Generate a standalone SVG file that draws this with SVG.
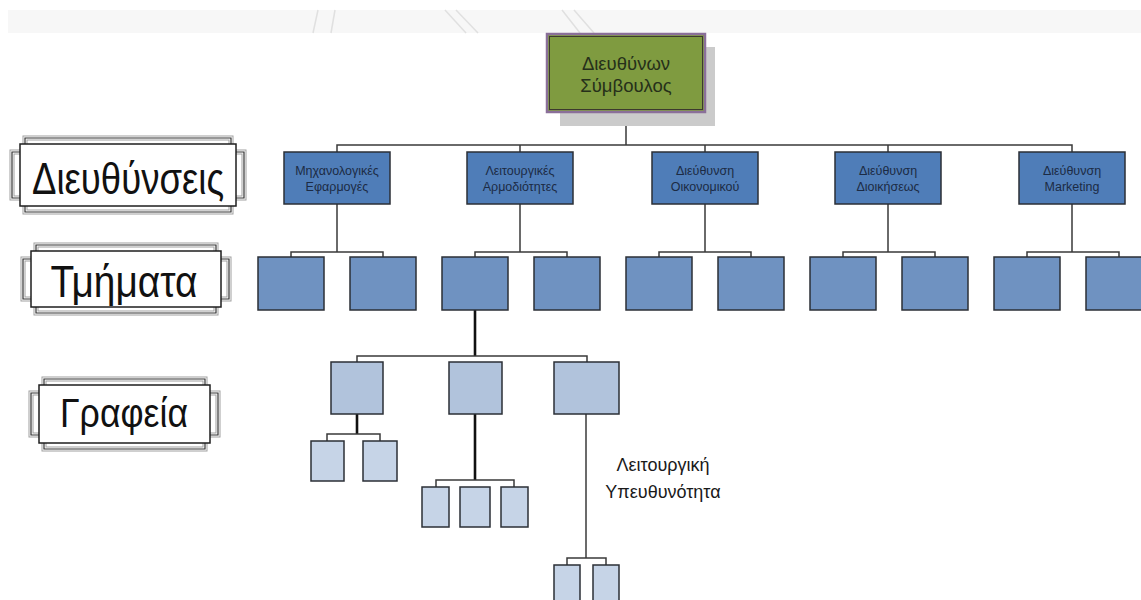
<svg xmlns="http://www.w3.org/2000/svg" xmlns:xlink="http://www.w3.org/1999/xlink" width="1141" height="600" viewBox="0 0 1141 600">
  <style>
    .sans { font-family: "Liberation Sans", Arial, sans-serif; }
    .frame-outer { fill: none; stroke: #a0a0a0; stroke-width: 5; }
    .frame-gap { fill: none; stroke: #ffffff; stroke-width: 3; }
    .frame-core { fill: none; stroke: #333333; stroke-width: 1.2; }
    .frame-inner { fill: #ffffff; stroke: #1e1e1e; stroke-width: 1.5; }
    .frame-text { font-size: 44px; fill: #111111; text-anchor: middle; }
    .dir { fill: #4f7db8; stroke: #2b2f36; stroke-width: 1.5; }
    .dir-text { font-size: 12.5px; fill: #1c2b44; text-anchor: middle; }
    .dept { fill: #6f92c1; stroke: #2b2f36; stroke-width: 1.5; }
    .office { fill: #b1c3dc; stroke: #2b2f36; stroke-width: 1.5; }
    .unit { fill: #c6d4e7; stroke: #2b2f36; stroke-width: 1.5; }
    .link { fill: none; stroke: #3a3a3a; stroke-width: 1.5; }
    .link-strong { fill: none; stroke: #111111; stroke-width: 2.6; }
  </style>
  <defs>
    <path id="plaque1" d="M25,138 H231 V152 H244 V198 H231 V212 H25 V198 H12 V152 H25 Z"/>
    <path id="plaque2" d="M36,245 H216 V259 H229 V299 H216 V313 H36 V299 H23 V259 H36 Z"/>
    <path id="plaque3" d="M44,379 H205 V393 H218 V435 H205 V449 H44 V435 H31 V393 H44 Z"/>
  </defs>

  <rect width="1141" height="600" fill="#ffffff"/>

  <!-- faint banner strip along the top -->
  <g id="banner">
    <rect x="8" y="10" width="1133" height="23" fill="#f7f7f7"/>
    <g stroke="#e0e0e0" stroke-width="1.5" fill="none">
      <line x1="318" y1="10" x2="313" y2="33"/>
      <line x1="335" y1="10" x2="331" y2="33"/>
      <line x1="445" y1="10" x2="466" y2="33"/>
      <line x1="456" y1="10" x2="478" y2="33"/>
      <line x1="562" y1="10" x2="580" y2="33"/>
      <line x1="574" y1="10" x2="594" y2="33"/>
    </g>
  </g>

  <!-- level labels -->
  <g id="label-directorates">
    <use xlink:href="#plaque1" class="frame-outer"/>
    <use xlink:href="#plaque1" class="frame-gap"/>
    <use xlink:href="#plaque1" class="frame-core"/>
    <rect x="20" y="144" width="216" height="62" class="frame-inner"/>
    <text x="128" y="194" class="sans frame-text" textLength="192" lengthAdjust="spacingAndGlyphs">Διευθύνσεις</text>
  </g>
  <g id="label-departments">
    <use xlink:href="#plaque2" class="frame-outer"/>
    <use xlink:href="#plaque2" class="frame-gap"/>
    <use xlink:href="#plaque2" class="frame-core"/>
    <rect x="31" y="251" width="190" height="56" class="frame-inner"/>
    <text x="124" y="297" class="sans frame-text" textLength="147" lengthAdjust="spacingAndGlyphs">Τμήματα</text>
  </g>
  <g id="label-offices">
    <use xlink:href="#plaque3" class="frame-outer"/>
    <use xlink:href="#plaque3" class="frame-gap"/>
    <use xlink:href="#plaque3" class="frame-core"/>
    <rect x="39" y="385" width="171" height="58" class="frame-inner"/>
    <text x="124" y="427" class="sans frame-text" style="font-size:40px" textLength="128" lengthAdjust="spacingAndGlyphs">Γραφεία</text>
  </g>

  <!-- connectors -->
  <g id="connectors">
    <!-- CEO to directorates -->
    <path class="link" d="M626,120 V145 M337,152 V145 H1072 V152 M520,145 V152 M705,145 V152 M888,145 V152"/>
    <!-- directorates to departments -->
    <path class="link" d="M337,204 V252 M291,257 V252 H383 V257"/>
    <path class="link" d="M520,204 V252 M475,257 V252 H567 V257"/>
    <path class="link" d="M705,204 V252 M659,257 V252 H751 V257"/>
    <path class="link" d="M888,204 V252 M843,257 V252 H935 V257"/>
    <path class="link" d="M1072,204 V252 M1027,257 V252 H1119 V257"/>
    <!-- department to offices -->
    <path class="link-strong" d="M475,310 V356"/>
    <path class="link" d="M357,362 V356 H587 V362"/>
    <!-- offices to units -->
    <path class="link-strong" d="M357,414 V434"/>
    <path class="link" d="M327,441 V434 H380 V441"/>
    <path class="link-strong" d="M475,414 V480"/>
    <path class="link" d="M436,487 V480 H514 V487"/>
    <path class="link" d="M586,414 V558"/>
    <path class="link" d="M567,565 V558 H606 V565"/>
  </g>

  <!-- chief executive -->
  <g id="ceo">
    <rect x="560" y="47" width="155" height="79" fill="#cbcbcb"/>
    <rect x="547" y="34" width="158" height="78" fill="#7f9b40" stroke="#8a6f99" stroke-width="2.5"/>
    <rect x="549.5" y="36.5" width="153" height="73" fill="none" stroke="#3d3a2e" stroke-width="1"/>
    <text class="sans" x="626" y="70" font-size="18.5" fill="#26301a" text-anchor="middle">Διευθύνων</text>
    <text class="sans" x="626" y="92" font-size="18.5" fill="#26301a" text-anchor="middle">Σύμβουλος</text>
  </g>

  <!-- directorates -->
  <g id="dir-mechanical">
    <rect x="284" y="152" width="106" height="52" class="dir"/>
    <text class="sans dir-text" x="337" y="175">Μηχανολογικές</text>
    <text class="sans dir-text" x="337" y="191">Εφαρμογές</text>
  </g>
  <g id="dir-operational">
    <rect x="467" y="152" width="106" height="52" class="dir"/>
    <text class="sans dir-text" x="520" y="175">Λειτουργικές</text>
    <text class="sans dir-text" x="520" y="191">Αρμοδιότητες</text>
  </g>
  <g id="dir-finance">
    <rect x="652" y="152" width="106" height="52" class="dir"/>
    <text class="sans dir-text" x="705" y="175">Διεύθυνση</text>
    <text class="sans dir-text" x="705" y="191">Οικονομικού</text>
  </g>
  <g id="dir-admin">
    <rect x="835" y="152" width="106" height="52" class="dir"/>
    <text class="sans dir-text" x="888" y="175">Διεύθυνση</text>
    <text class="sans dir-text" x="888" y="191">Διοικήσεως</text>
  </g>
  <g id="dir-marketing">
    <rect x="1019" y="152" width="106" height="52" class="dir"/>
    <text class="sans dir-text" x="1072" y="175">Διεύθυνση</text>
    <text class="sans dir-text" x="1072" y="191">Marketing</text>
  </g>

  <!-- departments -->
  <g id="dept-1"><rect x="258" y="257" width="66" height="53" class="dept"/></g>
  <g id="dept-2"><rect x="350" y="257" width="66" height="53" class="dept"/></g>
  <g id="dept-3"><rect x="442" y="257" width="66" height="53" class="dept"/></g>
  <g id="dept-4"><rect x="534" y="257" width="66" height="53" class="dept"/></g>
  <g id="dept-5"><rect x="626" y="257" width="66" height="53" class="dept"/></g>
  <g id="dept-6"><rect x="718" y="257" width="66" height="53" class="dept"/></g>
  <g id="dept-7"><rect x="810" y="257" width="66" height="53" class="dept"/></g>
  <g id="dept-8"><rect x="902" y="257" width="66" height="53" class="dept"/></g>
  <g id="dept-9"><rect x="994" y="257" width="66" height="53" class="dept"/></g>
  <g id="dept-10"><rect x="1086" y="257" width="66" height="53" class="dept"/></g>

  <!-- offices -->
  <g id="office-1"><rect x="331" y="362" width="52" height="52" class="office"/></g>
  <g id="office-2"><rect x="449" y="362" width="53" height="52" class="office"/></g>
  <g id="office-3"><rect x="554" y="362" width="65" height="52" class="office"/></g>

  <!-- units -->
  <g id="unit-1a"><rect x="311" y="441" width="33" height="40" class="unit"/></g>
  <g id="unit-1b"><rect x="363" y="441" width="34" height="40" class="unit"/></g>
  <g id="unit-2a"><rect x="422" y="487" width="27" height="40" class="unit"/></g>
  <g id="unit-2b"><rect x="460" y="487" width="30" height="40" class="unit"/></g>
  <g id="unit-2c"><rect x="501" y="487" width="27" height="40" class="unit"/></g>
  <g id="unit-3a"><rect x="554" y="565" width="26" height="45" class="unit"/></g>
  <g id="unit-3b"><rect x="593" y="565" width="26" height="45" class="unit"/></g>

  <!-- annotation -->
  <g id="annotation">
    <text class="sans" x="663" y="471" font-size="18" fill="#1a1a1a" text-anchor="middle">Λειτουργική</text>
    <text class="sans" x="663" y="498" font-size="18" fill="#1a1a1a" text-anchor="middle">Υπευθυνότητα</text>
  </g>
</svg>
